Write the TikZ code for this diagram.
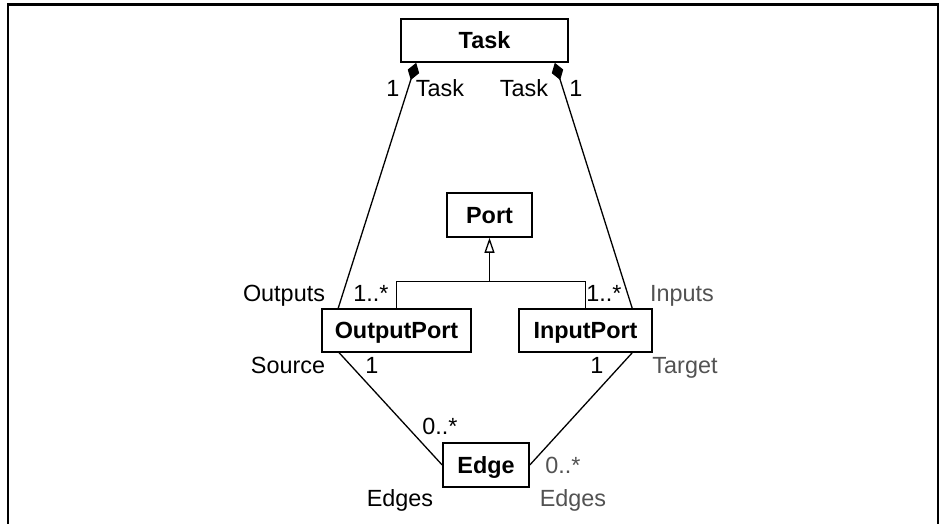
\documentclass[tikz,border=0pt]{standalone}
\usepackage{fontspec}
\setmainfont{Liberation Sans}
\usetikzlibrary{arrows.meta,calc}

\begin{document}
\begin{tikzpicture}[x=0.5pt,y=-0.5pt,
  font=\fontsize{11.7}{14}\selectfont,
  cls/.style={draw,line width=0.8pt,fill=white,inner sep=0pt,text height=8.4pt,text depth=0pt,font=\fontsize{11.7}{14}\selectfont\bfseries},
  conn/.style={line width=0.65pt},
  comp/.style={conn,{Diamond[length=9pt,width=6pt]}-},
  gen/.style={conn,-{Triangle[open,length=7.5pt,width=5pt]}},
  lbl/.style={inner sep=0pt,anchor=center,text height=8.4pt,text depth=2.5pt},
  lblg/.style={lbl,text=black!68}]
  \useasboundingbox (0,0) rectangle (944,524);

  % page frame
  \draw[line width=1.1pt] (8,524) -- (8,4.5) -- (938,4.5) -- (938,524);

  % classes
  \node[cls,minimum width=83.5pt,minimum height=21.5pt] (task) at (484.5,40.5) {Task};
  \node[cls,minimum width=42.5pt,minimum height=22pt] (port) at (489.5,215) {Port};
  \node[cls,minimum width=74.5pt,minimum height=21.5pt] (op) at (396.5,330.5) {OutputPort};
  \node[cls,minimum width=66.5pt,minimum height=21.5pt] (ip) at (585.5,330.5) {InputPort};
  \node[cls,minimum width=43pt,minimum height=22pt] (edge) at (486,465) {Edge};

  % attachment points
  \coordinate (taskL) at ($(task.south west)+(16,0)$);
  \coordinate (taskR) at ($(task.south east)+(-14,0)$);
  \coordinate (opT)   at ($(op.north west)+(17,0)$);
  \coordinate (ipT)   at ($(ip.north west)+(114,0)$);
  \coordinate (opB)   at ($(op.south west)+(18,0)$);
  \coordinate (ipB)   at ($(ip.south west)+(114,0)$);
  \coordinate (join)  at ($(port.south)+(0,44)$);

  % composition Task -> ports
  \draw[comp] (taskL) -- (opT);
  \draw[comp] (taskR) -- (ipT);

  % generalization to Port
  \draw[conn] (op.north) |- (join) -| (ip.north);
  \draw[gen] (join) -- (port.south);

  % associations with Edge
  \draw[conn] (opB) -- (edge.west);
  \draw[conn] (ipB) -- (edge.east);

  % role names and multiplicities
  \node[lbl] (m1) at (393,91) {1};
  \node[lbl] (r1) at (440,91) {Task};
  \node[lbl] (r2) at (524,91) {Task};
  \node[lbl] (m2) at (576,91) {1};

  \node[lbl]  (r3) at (284,296) {Outputs};
  \node[lbl]  (m3) at (371,296) {1..*};
  \node[lbl]  (m4) at (604,296) {1..*};
  \node[lblg] (r4) at (682,296) {Inputs};

  \node[lbl]  (r5) at (288,368) {Source};
  \node[lbl]  (m5) at (372,368) {1};
  \node[lbl]  (m6) at (597,368) {1};
  \node[lblg] (r6) at (685,368) {Target};

  \node[lbl]  (m7) at (440,429) {0..*};
  \node[lblg] (m8) at (563,468) {0..*};
  \node[lbl]  (r7) at (400,501) {Edges};
  \node[lblg] (r8) at (573,501) {Edges};
\end{tikzpicture}
\end{document}
